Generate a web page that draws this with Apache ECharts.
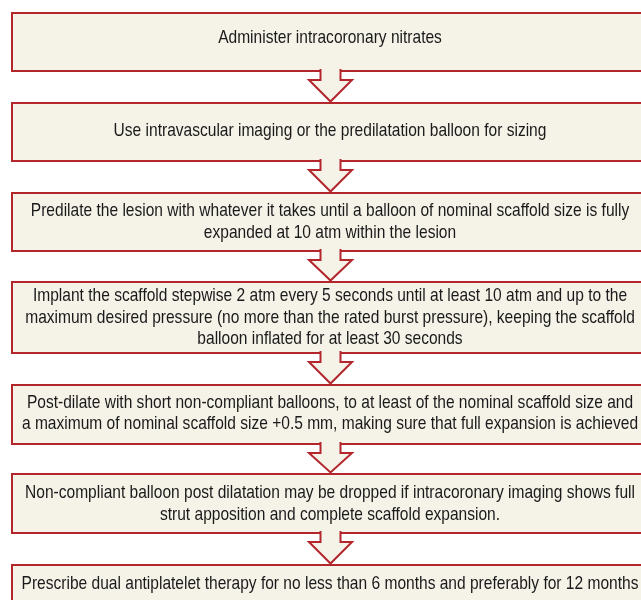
<!DOCTYPE html>
<html>
<head>
<meta charset="utf-8">
<script src="https://cdn.jsdelivr.net/npm/echarts@6/dist/echarts.min.js"></script>
<style>
html,body{margin:0;padding:0;background:#fff;}
#chart{width:641px;height:600px;}
</style>
</head>
<body>
<div id="chart"></div>
<script>
// ---- content ----
const steps = [
  "Administer intracoronary nitrates",
  "Use intravascular imaging or the predilatation balloon for sizing",
  "Predilate the lesion with whatever it takes until a balloon of nominal scaffold size is fully\nexpanded at 10 atm within the lesion",
  "Implant the scaffold stepwise 2 atm every 5 seconds until at least 10 atm and up to the\nmaximum desired pressure (no more than the rated burst pressure), keeping the scaffold\nballoon inflated for at least 30 seconds",
  "Post-dilate with short non-compliant balloons, to at least of the nominal scaffold size and\na maximum of nominal scaffold size +0.5 mm, making sure that full expansion is achieved",
  "Non-compliant balloon post dilatation may be dropped if intracoronary imaging shows full\nstrut apposition and complete scaffold expansion.",
  "Prescribe dual antiplatelet therapy for no less than 6 months and preferably for 12 months"
];

// ---- layout (pixel units on hidden axes) ----
const boxTops = [13, 103, 193, 282, 385, 474, 565];
const boxHeights = [58, 58, 58, 71, 59, 59, 58];
const textCenters = [37.7, 130.7, 222, 317.5, 413.5, 503.7, 584];
const boxLeft = 12, boxRight = 649, centerX = 330;

const RED = '#B3262C', CREAM = '#F5F2E8', INK = '#1a1a1a';
const FONT = '19px "Liberation Sans", Arial, sans-serif';
const NARROW = 0.818;

const chart = echarts.init(document.getElementById('chart'), null, {renderer: 'canvas'});

const boxData = steps.map((t, i) => [i]);
const arrowData = steps.slice(0, -1).map((t, i) => [i]);

chart.setOption({
  animation: false,
  grid: {left: 0, right: 0, top: 0, bottom: 0},
  xAxis: {type: 'value', min: 0, max: 641, show: false},
  yAxis: {type: 'value', min: 0, max: 600, inverse: true, show: false},
  series: [
    {
      type: 'custom',
      coordinateSystem: 'cartesian2d',
      data: boxData,
      clip: false,
      renderItem: function (params, api) {
        const i = api.value(0);
        const p0 = api.coord([boxLeft, boxTops[i]]);
        const p1 = api.coord([boxRight, boxTops[i] + boxHeights[i]]);
        const tc = api.coord([centerX, textCenters[i]]);
        return {
          type: 'group',
          children: [
            {
              type: 'rect',
              shape: {x: p0[0], y: p0[1], width: p1[0] - p0[0], height: p1[1] - p0[1]},
              style: {fill: CREAM, stroke: RED, lineWidth: 2}
            },
            {
              type: 'text',
              z2: 10,
              x: tc[0], y: tc[1],
              scaleX: NARROW, scaleY: 1,
              style: {
                text: steps[i], x: 0, y: 0,
                align: 'center', verticalAlign: 'middle',
                font: FONT, lineHeight: 21.5, fill: INK
              }
            }
          ]
        };
      }
    },
    {
      type: 'custom',
      coordinateSystem: 'cartesian2d',
      data: arrowData,
      clip: false,
      z: 3,
      renderItem: function (params, api) {
        const i = api.value(0);
        const bottom = boxTops[i] + boxHeights[i];
        const next = boxTops[i + 1];
        const c = api.coord([centerX + 0.5, 0])[0];
        const yTop = api.coord([0, bottom - 2])[1];
        const yHead = api.coord([0, bottom + 9])[1];
        const yTip = api.coord([0, next - 1.5])[1];
        const sw = 10, hw = 21.5;
        const pts = [
          [c - sw, yTop], [c - sw, yHead], [c - hw, yHead], [c, yTip],
          [c + hw, yHead], [c + sw, yHead], [c + sw, yTop]
        ];
        return {
          type: 'group',
          children: [
            {type: 'polygon', shape: {points: pts}, style: {fill: CREAM, stroke: null}},
            {type: 'polyline', shape: {points: pts}, style: {fill: null, stroke: RED, lineWidth: 2, lineJoin: 'miter'}}
          ]
        };
      }
    }
  ]
});
</script>
</body>
</html>
